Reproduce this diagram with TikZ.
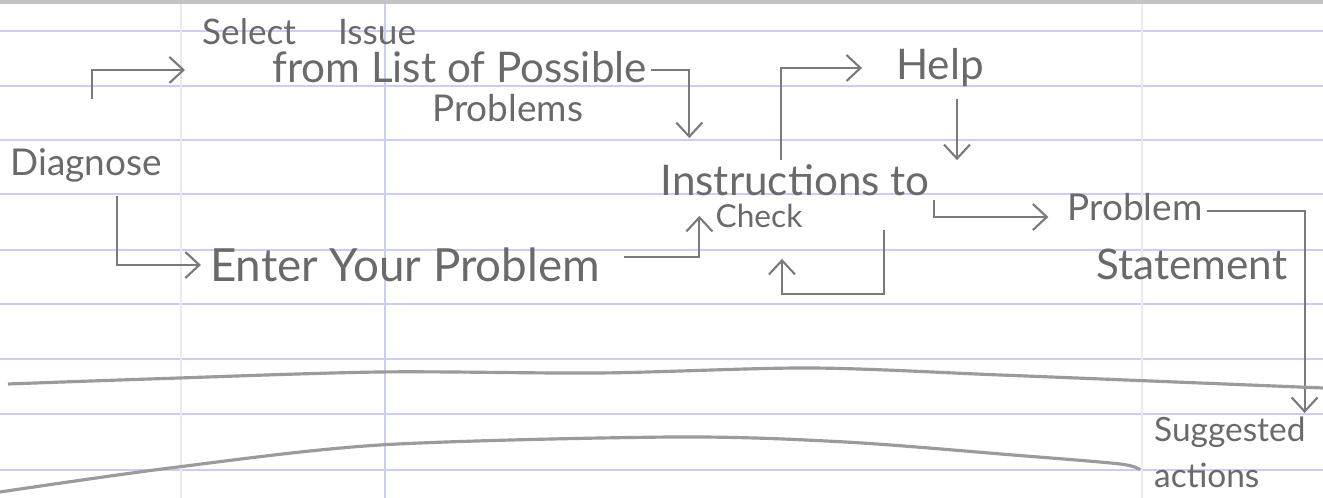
\documentclass[tikz,border=0pt]{standalone}
\usepackage{fontspec}
\setmainfont{Lato}
\usetikzlibrary{positioning,arrows.meta}
\usepackage{xcolor}
\definecolor{Pencil}{HTML}{7A7A7A}
\definecolor{PencilText}{HTML}{6A6A6A}
\definecolor{RuleBlue}{HTML}{CACEF2}

\begin{document}
\begin{tikzpicture}[
        x=0.01cm, y=-0.01cm,
        note/.style={inner sep=1pt, text=PencilText, font=\fontsize{12}{11}\selectfont},
        small/.style={note, font=\fontsize{9}{10}\selectfont},
        edge/.style={draw=Pencil, ->, >={Straight Barb[length=1.4mm,width=2.6mm]}, line width=0.6pt},
        sheet/.style={draw=Pencil!75, line width=0.9pt}
    ]
        \fill[white] (0,0) rectangle (1323,498);
        \useasboundingbox (0,0) rectangle (1323,498);
        \foreach \y in {31,86,140,194,250,304,359,414,470}
            \draw[RuleBlue, line width=0.5pt] (0,\y) -- (1323,\y);
        \draw[RuleBlue, line width=0.5pt] (385,0) -- (385,498);
        \draw[black!8, line width=0.5pt] (181,0) -- (181,498);
        \draw[black!8, line width=0.5pt] (1142,0) -- (1142,498);
        \draw[Pencil!45, line width=1.2pt] (0,2) -- (1323,2);

        \node [note, font=\fontsize{10.5}{11}\selectfont] (diag) at (86,165) {Diagnose};
        \node [note, anchor=north west, align=left] (sel) at (198,14) {{\fontsize{10}{11}\selectfont Select\hspace{0.42cm}Issue}\\ \hspace*{0.7cm}from List of Possible\\ \hspace*{2.3cm}{\fontsize{10.5}{11}\selectfont Problems}};
        \node [note, font=\fontsize{13}{12}\selectfont] (enter) at (405,265) {Enter Your Problem};
        \node [note] (instr) at (795,180) {Instructions to};
        \node [small, below=0pt of instr, xshift=-0.36cm] (check) {Check};
        \node [note] (help) at (940,68) {Help};
        \node [note, font=\fontsize{10.5}{11}\selectfont] (prob) at (1135,207) {Problem};
        \node [note, below=0.2cm of prob, xshift=0.57cm] (stmt) {Statement};
        \node [note, anchor=north west, align=left, font=\fontsize{9.5}{13}\selectfont] (sugg) at (1150,413) {Suggested\\ actions};

        \draw [edge, shorten <=0.45cm, shorten >=0.13cm] ([xshift=0.06cm]diag.north) |- (sel.west);
        \draw [edge, shorten >=0.22cm] (sel.east) -| ([xshift=0.33cm]instr.north west);
        \draw [edge, shorten >=0.3cm] ([xshift=-0.14cm]instr.north) |- (help.west);
        \draw [edge, shorten <=0.08cm] ([xshift=0.17cm]help.south) -- ([xshift=0.17cm]help.south |- instr.north);
        \draw [edge, shorten >=0.15cm] (instr.south east) |- ([yshift=-0.1cm]prob.west);
        \draw [edge] ([yshift=-0.04cm]prob.east) -| ([xshift=-0.05cm]sugg.north east);
        \draw [edge, shorten <=0.1cm, shorten >=0.05cm] ([xshift=0.31cm]diag.south) |- (enter.west);
        \draw [edge, shorten <=0.2cm] ([yshift=0.08cm]enter.east) -| ([xshift=-0.12cm]check.west);
        \draw [edge] ([xshift=-0.5cm,yshift=-0.3cm]instr.south east) -- ++(0,64) -| ([xshift=0.23cm,yshift=-0.27cm]check.south);

        \draw [sheet] plot[smooth] coordinates {(8,384) (150,379) (380,372) (600,373) (810,368) (1000,375) (1200,383) (1323,388)};
        \draw [sheet] plot[smooth] coordinates {(0,492) (170,468) (380,445) (675,437) (845,442) (1013,455) (1120,464) (1140,470)};
    \end{tikzpicture}
\end{document}
